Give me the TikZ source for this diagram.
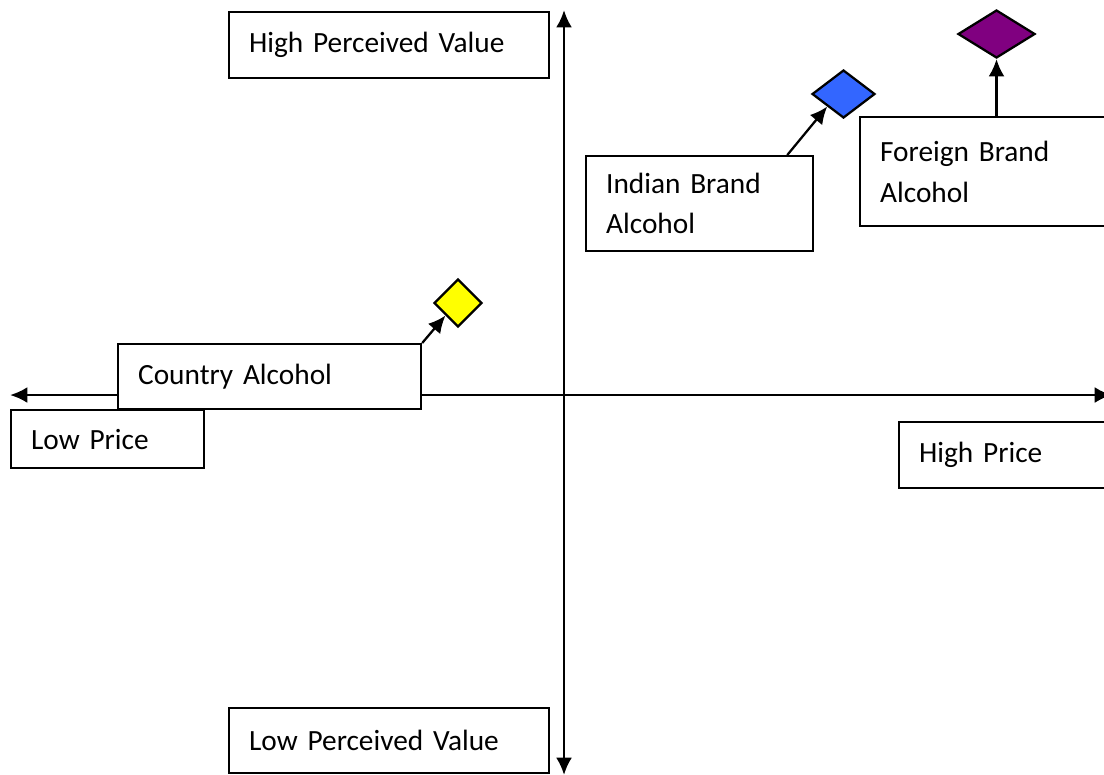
\documentclass[tikz,border=0pt]{standalone}
\usepackage{fontspec}
\setmainfont{Carlito}
\usetikzlibrary{shapes.geometric}
\usetikzlibrary{arrows.meta}

\definecolor{gemyellow}{RGB}{255,255,0}
\definecolor{gemblue}{RGB}{51,102,255}
\definecolor{gempurple}{RGB}{128,0,128}

\begin{document}
\begin{tikzpicture}[x=0.375pt,y=-0.375pt,
    box/.style={draw,fill=white,line width=0.85pt,anchor=north west,align=left,
        inner xsep=7.5pt,inner ysep=0pt,font=\fontsize{11}{15.2}\selectfont},
    gem/.style={diamond,draw,line width=0.85pt,inner sep=0pt,minimum height=18pt},
    >={Latex[length=6.5pt,width=6pt]}]
    \clip (0,0) rectangle (1104,774);

    \coordinate (left) at (10,395);
    \coordinate (right) at (1112,395);
    \coordinate (top) at (564,10);
    \coordinate (bottom) at (564,775);
    \draw[line width=1.05pt,<->] (left) -- (right);
    \draw[line width=1.05pt,<->] (bottom) -- (top);

    \node[box,text width=105pt,minimum height=24.75pt] (hpv) at (228,11) {High Perceived Value};
    \node[box,text width=105pt,minimum height=24.4pt] (lpv) at (228,707) {Low Perceived Value};
    \node[box,text width=98.6pt,minimum height=24.4pt] (country) at (117,343) {Country Alcohol};
    \node[box,text width=57.4pt,minimum height=21.75pt] (lowp) at (10,409) {Low Price};
    \node[box,text width=63.75pt,minimum height=24.75pt] (highp) at (898,421) {High Price};
    \node[box,text width=70.1pt,minimum height=35.6pt] (indian) at (585,155) {Indian Brand\\Alcohol};
    \node[box,text width=78.75pt,minimum height=40.9pt] (foreign) at (859,116) {Foreign Brand\\Alcohol\\[-4pt]};

    \node[gem,fill=gemyellow,minimum width=18pt] (dcountry) at (458,303) {};
    \node[gem,fill=gemblue,minimum width=23.6pt] (dindian) at (843.5,94) {};
    \node[gem,fill=gempurple,minimum width=28.9pt] (dforeign) at (996.5,34) {};

    \draw[line width=0.85pt,->] (country.north east) -- (dcountry.south west);
    \draw[line width=0.85pt,->] ([xshift=-10.1pt]indian.north east) -- (dindian.south west);
    \draw[line width=0.85pt,->] (foreign.north -| dforeign.south) -- (dforeign.south);
\end{tikzpicture}
\end{document}
